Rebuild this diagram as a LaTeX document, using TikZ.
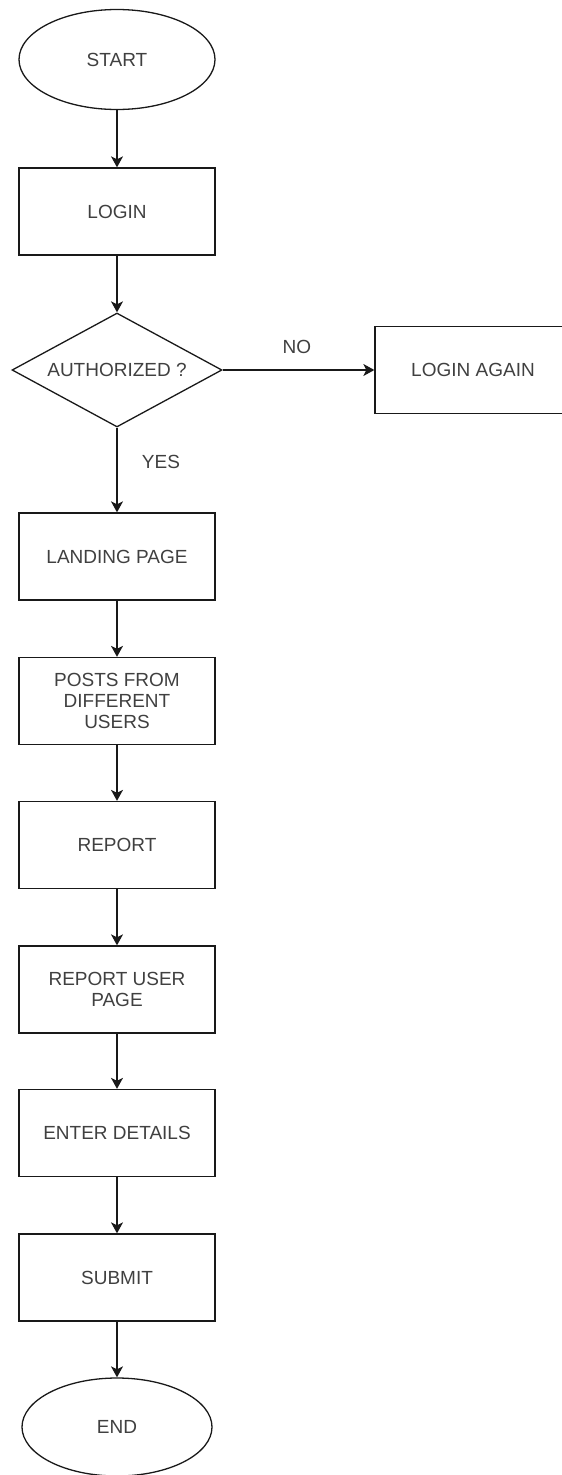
\documentclass[tikz,border=0pt]{standalone}
\usepackage{fontspec}
\setmainfont{Liberation Sans}
\usetikzlibrary{shapes.geometric,arrows.meta}
\tikzset{
  startstop/.style={ellipse,draw,minimum width=196pt,minimum height=100pt,inner sep=0pt},
  process/.style={rectangle,draw,minimum width=196pt,minimum height=87pt,align=center,inner sep=0pt},
  decision/.style={diamond,draw,aspect=1.84,minimum width=210pt,minimum height=114pt,inner sep=0pt},
  arrow/.style={-{Stealth[length=11pt,width=12pt,inset=3pt]}},
  lbl/.style={inner sep=0pt}
}
\begin{document}
\begin{tikzpicture}[x=1pt,y=-1pt,line width=1.3pt,draw=black!90,
    font=\fontsize{19}{21}\selectfont,text=black!75]
	\useasboundingbox (0,0) rectangle (562,1475);
	% main column
	\node[startstop] (start) at (117,59.5) {START};
	\node[process] (login) at (117,211.5) {LOGIN};
	\node[decision] (auth) at (117,370) {AUTHORIZED ?};
	\node[process] (again) at (473,370) {LOGIN AGAIN};
	\node[process] (landing) at (117,556.5) {LANDING PAGE};
	\node[process] (posts) at (117,701) {POSTS FROM\\DIFFERENT\\USERS};
	\node[process] (report) at (117,845) {REPORT};
	\node[process] (reportuser) at (117,989.5) {REPORT USER\\PAGE};
	\node[process] (details) at (117,1133) {ENTER DETAILS};
	\node[process] (submit) at (117,1277.5) {SUBMIT};
	\node[startstop,minimum width=190pt,minimum height=98pt] (end) at (117,1427) {END};
	% connectors
	\draw[arrow] (start) -- (login);
	\draw[arrow] (login) -- (auth);
	\draw[arrow] (auth) -- (again) node[lbl,pos=0.49,yshift=23pt] (no) {NO};
	\draw[arrow] (auth) -- (landing) node[lbl,pos=0.4,xshift=44pt] (yes) {YES};
	\draw[arrow] (landing) -- (posts);
	\draw[arrow] (posts) -- (report);
	\draw[arrow] (report) -- (reportuser);
	\draw[arrow] (reportuser) -- (details);
	\draw[arrow] (details) -- (submit);
	\draw[arrow] (submit) -- (end);
\end{tikzpicture}
\end{document}
